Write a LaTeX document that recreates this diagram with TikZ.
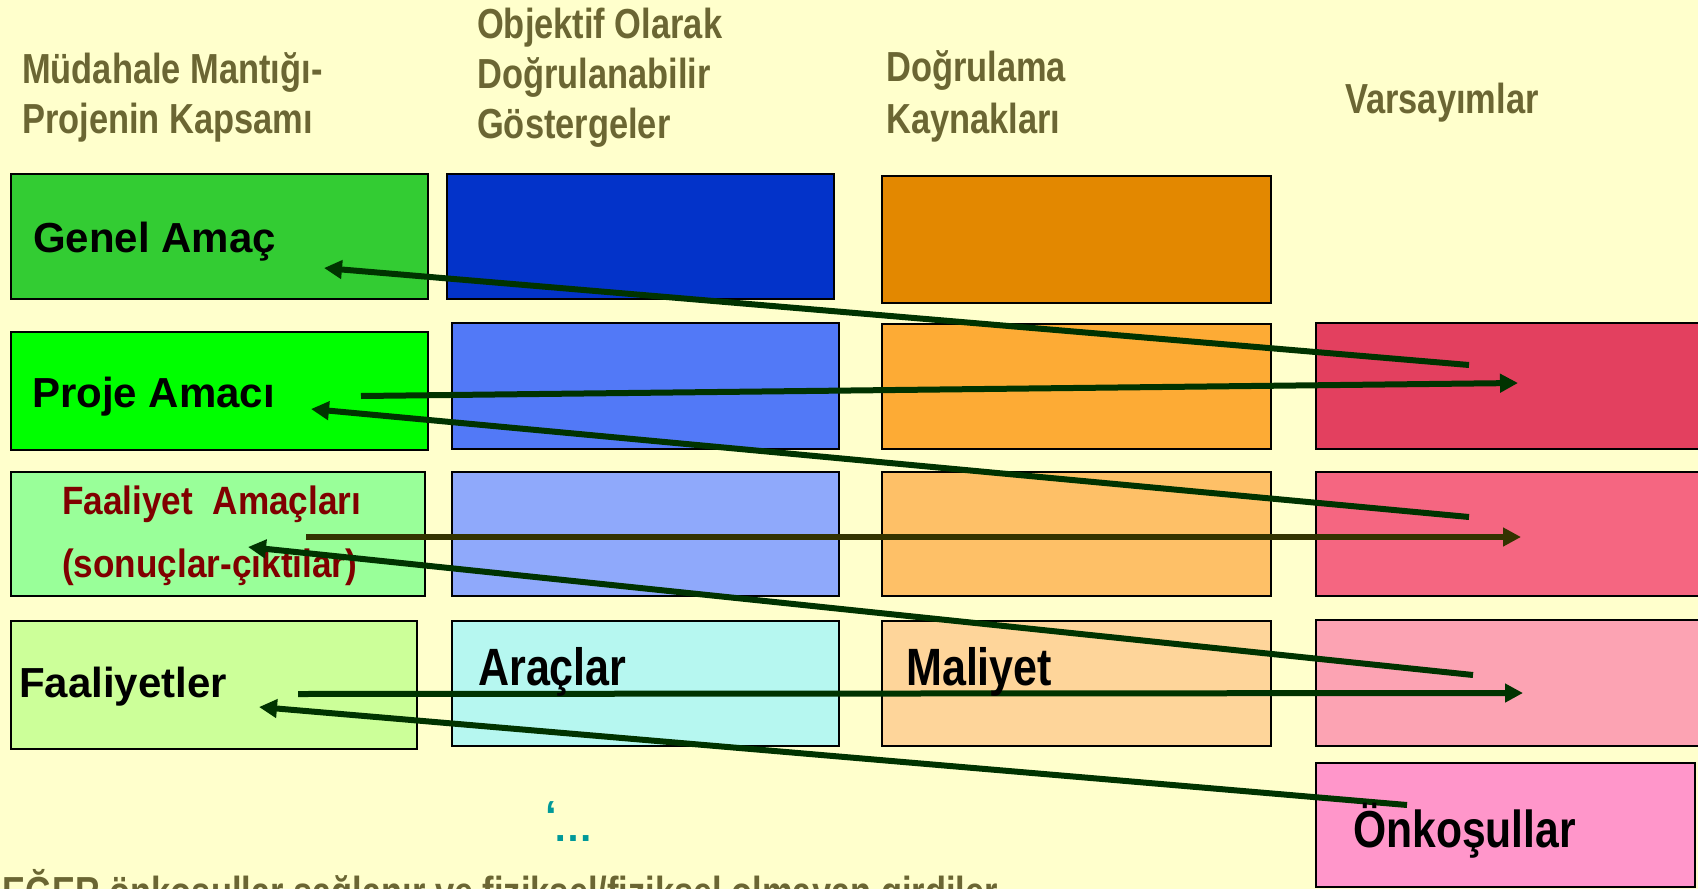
\documentclass[tikz,border=0pt]{standalone}
\usepackage{fontspec}
\setmainfont{Liberation Sans}
\newfontfamily\nar[FakeStretch=0.82]{Liberation Sans}
\newfontfamily\narb[FakeStretch=0.89]{Liberation Sans}
\usetikzlibrary{arrows.meta}
\definecolor{bg}{HTML}{FFFFCC}
\definecolor{olive}{HTML}{6B6633}
\definecolor{darkred}{HTML}{800000}
\definecolor{arrg}{HTML}{003300}
\definecolor{arrb}{HTML}{333300}
\definecolor{teal}{HTML}{009999}
\definecolor{gA}{HTML}{33CC33}
\definecolor{gB}{HTML}{00FF00}
\definecolor{gC}{HTML}{99FF99}
\definecolor{gD}{HTML}{CCFF99}
\definecolor{bA}{HTML}{0333C9}
\definecolor{bB}{HTML}{5279F7}
\definecolor{bC}{HTML}{8FA9FB}
\definecolor{bD}{HTML}{B6F7F0}
\definecolor{oA}{HTML}{E38800}
\definecolor{oB}{HTML}{FDAB35}
\definecolor{oC}{HTML}{FEC067}
\definecolor{oD}{HTML}{FED59A}
\definecolor{rA}{HTML}{E3405F}
\definecolor{rB}{HTML}{F56681}
\definecolor{rC}{HTML}{FCA3B3}
\definecolor{rD}{HTML}{FF96CA}
\newcommand\bx[6]{\node[box,fill=#6,minimum width={#4-#2},minimum height={#5-#3},anchor=north west] (#1) at (#2,#3) {};}
\tikzset{
  box/.style={draw=black,line width=2pt,inner sep=0pt,outer sep=0pt,rectangle},
  hdr/.style={anchor=base west,inner sep=0pt,text=olive,font=\nar\bfseries\fontsize{42}{50}\selectfont},
  lbl/.style={anchor=base west,inner sep=0pt,text=black,font=\bfseries\fontsize{42}{50}\selectfont},
  nlbl/.style={anchor=base west,inner sep=0pt,text=black,font=\nar\bfseries\fontsize{52.5}{60}\selectfont},
  falbl/.style={anchor=base west,inner sep=0pt,text=darkred,font=\narb\bfseries\fontsize{39.5}{46}\selectfont},
  arr/.style={draw=arrg,line width=6pt,-{Triangle[length=18pt,width=18pt]}},
}
\begin{document}
\begin{tikzpicture}[x=1pt,y=-1pt]
\clip (0,0) rectangle (1698,889);
\fill[bg] (0,0) rectangle (1698,889);
% headers
\node[hdr] (h1a) at (22,83) {Müdahale Mantığı-};
\node[hdr] (h1b) at (22,133) {Projenin Kapsamı};
\node[hdr] (h2a) at (477,38) {Objektif Olarak};
\node[hdr] (h2b) at (477,88) {Doğrulanabilir};
\node[hdr] (h2c) at (477,138) {Göstergeler};
\node[hdr] (h3a) at (886,81) {Doğrulama};
\node[hdr] (h3b) at (886,133) {Kaynakları};
\node[hdr] (h4) at (1345,113) {Varsayımlar};
% boxes
\bx{c1r1}{11}{174}{428}{299}{gA}
\bx{c1r2}{11}{332}{428}{450}{gB}
\bx{c1r3}{11}{472}{425}{596}{gC}
\bx{c1r4}{11}{621}{417}{749}{gD}
\bx{c2r1}{447}{174}{834}{299}{bA}
\bx{c2r2}{452}{323}{839}{449}{bB}
\bx{c2r3}{452}{472}{839}{596}{bC}
\bx{c2r4}{452}{621}{839}{746}{bD}
\bx{c3r1}{882}{176}{1271}{303}{oA}
\bx{c3r2}{882}{324}{1271}{449}{oB}
\bx{c3r3}{882}{472}{1271}{596}{oC}
\bx{c3r4}{882}{621}{1271}{746}{oD}
\bx{c4r1}{1316}{323}{1730}{449}{rA}
\bx{c4r2}{1316}{472}{1730}{596}{rB}
\bx{c4r3}{1316}{620}{1730}{746}{rC}
\bx{c4r4}{1316}{763}{1695}{887}{rD}
% column 1 labels
\node[lbl] (tGA) at (33,252) {Genel Amaç};
\node[lbl] (tPA) at (32,407) {Proje Amacı};
\node[falbl] (tFA1) at (62,514) {Faaliyet\ \ Amaçları};
\node[falbl] (tFA2) at (62,577) {(sonuçlar-çıktılar)};
\node[lbl] (tF) at (19,697) {Faaliyetler};
% arrows
\coordinate (a1s) at (1469,365); \coordinate (a1e) at (324,268);
\coordinate (a2s) at (361,396);  \coordinate (a2e) at (1518,383);
\coordinate (a3s) at (1469,517); \coordinate (a3e) at (311,409);
\coordinate (a4s) at (306,537);  \coordinate (a4e) at (1521,537);
\coordinate (a5s) at (1473,675); \coordinate (a5e) at (248,547);
\coordinate (a6s) at (298,694);  \coordinate (a6e) at (1523,693);
\coordinate (a7s) at (1407,805); \coordinate (a7e) at (259,707);
\draw[arr] (a1s) -- (a1e);
\draw[arr] (a2s) -- (a2e);
\draw[arr] (a3s) -- (a3e);
\draw[arr,draw=arrb,fill=arrb] (a4s) -- (a4e);
\draw[arr] (a5s) -- (a5e);
\draw[arr] (a6s) -- (a6e);
\draw[arr] (a7s) -- (a7e);
% other labels
\node[nlbl] (tAr) at (478,685) {Araçlar};
\node[nlbl] (tMa) at (906,685) {Maliyet};
\node[nlbl,font=\nar\bfseries\fontsize{52}{60}\selectfont] (tOn) at (1353,847) {Önkoşullar};
\node[anchor=north west,inner sep=0pt,text=teal,font=\bfseries\fontsize{42}{50}\selectfont] (q) at (545,801) {‘};
\node[anchor=base west,inner sep=0pt,text=teal,font=\bfseries\fontsize{40}{50}\selectfont] (dots) at (553,841) {…};
\node[hdr,anchor=base east] (bot) at (998,906) {EĞER önkoşullar sağlanır ve fiziksel/fiziksel olmayan girdiler};
\end{tikzpicture}
\end{document}
